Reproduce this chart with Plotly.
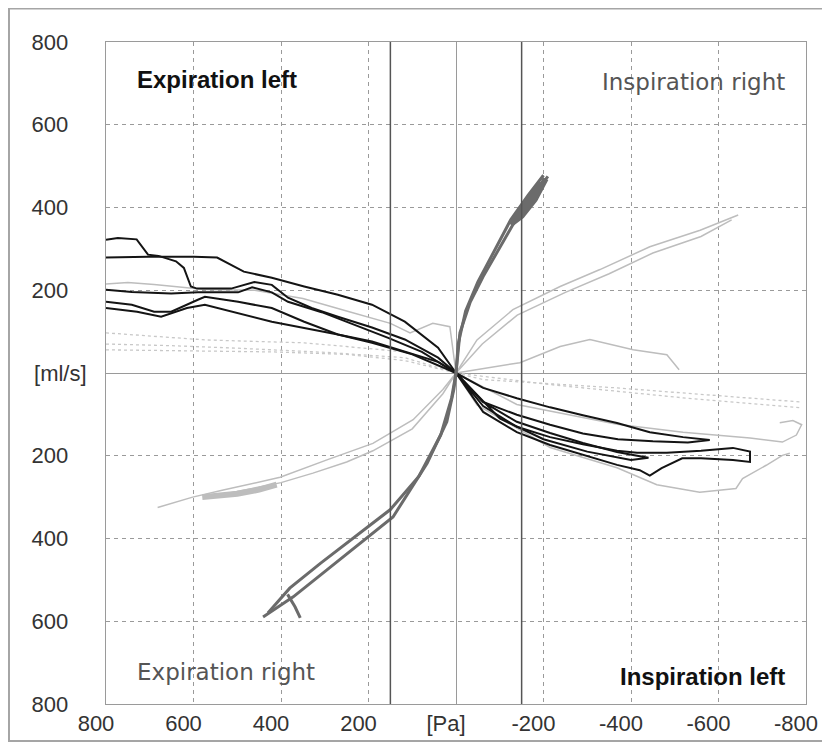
import plotly.graph_objects as go

# ---------------- data (pressure [Pa], flow [ml/s]) ----------------
x_ticks = [800, 600, 400, 200, 0, -200, -400, -600, -800]
x_tick_labels = ["800", "600", "400", "200", "[Pa]", "-200", "-400", "-600", "-800"]
y_ticks = [800, 600, 400, 200, 0, -200, -400, -600, -800]
y_tick_labels = ["800", "600", "400", "200", "[ml/s]", "200", "400", "600", "800"]
ref_lines_pa = [150, -150]

# Expiration left (black, upper-left quadrant)
expl_a_x = [800, 773, 730, 704, 680, 640, 622, 606, 592, 514, 461, 421, 384, 330, 270, 192, 117, 41, 0]
expl_a_y = [322, 326, 323, 286, 283, 270, 254, 209, 204, 204, 220, 213, 182, 157, 136, 110, 81, 37, 0]
expl_b_x = [800, 704, 599, 546, 485, 421, 347, 270, 192, 117, 41, 0]
expl_b_y = [279, 281, 281, 279, 245, 230, 209, 189, 165, 124, 61, 0]
expl_c_x = [800, 741, 651, 590, 498, 466, 421, 384, 307, 231, 155, 78, 0]
expl_c_y = [201, 196, 192, 195, 195, 207, 195, 172, 147, 116, 85, 51, 0]
expl_d_x = [800, 741, 690, 651, 590, 574, 498, 421, 347, 270, 192, 117, 41, 0]
expl_d_y = [172, 165, 148, 148, 177, 184, 172, 157, 124, 93, 76, 51, 27, 0]
expl_e_x = [800, 729, 674, 615, 574, 498, 421, 347, 270, 192, 100, 0]
expl_e_y = [157, 148, 136, 157, 165, 145, 124, 109, 93, 73, 45, 0]

# Inspiration left (black, lower-right quadrant)
insl_a_x = [0, -62, -139, -215, -290, -368, -443, -519, -580, -530, -450, -370, -290, -215, -139, -62, 0]
insl_a_y = [0, -36, -61, -83, -102, -121, -143, -155, -162, -168, -165, -160, -146, -125, -101, -70, 0]
insl_b_x = [0, -62, -139, -215, -290, -368, -414, -482, -560, -633, -672, -672, -633, -560, -517,
            -470, -443, -420, -368, -290, -215, -139, -62, 0]
insl_b_y = [0, -80, -130, -155, -172, -188, -193, -193, -188, -181, -190, -215, -210, -206, -206,
            -230, -248, -235, -222, -198, -174, -143, -94, 0]
insl_c_x = [0, -62, -139, -215, -290, -368, -414, -440, -400, -300, -200, -100, 0]
insl_c_y = [0, -70, -118, -145, -169, -191, -200, -205, -210, -190, -160, -110, 0]

# Right side (dark grey, steep curve)
right_a_x = [441, 372, 295, 219, 144, 66, 21, 5, 0, -9, -32, -62, -107, -146, -185, -210]
right_a_y = [-590, -541, -476, -411, -348, -218, -118, -40, 0, 97, 170, 233, 315, 388, 440, 475]
right_b_x = [-200, -165, -125, -90, -50, -22, -5, 0, 10, 35, 85, 150, 230, 310, 380, 430]
right_b_y = [478, 430, 370, 300, 220, 150, 70, 0, -60, -150, -250, -330, -395, -460, -520, -580]
right_c_x = [-205, -180, -150, -125, -160, -195]
right_c_y = [470, 420, 380, 360, 410, 460]
right_spur_x = [385, 368, 356]
right_spur_y = [-535, -565, -592]

# Light grey curves (second measurement)
grey_a_x = [682, 602, 532, 470, 402, 295, 190, 98, 30, 0, -48, -130, -238, -329, -443, -558, -645]
grey_a_y = [-325, -300, -283, -268, -252, -210, -170, -113, -40, 0, 80, 153, 209, 250, 305, 345, 382]
grey_b_x = [540, 470, 400, 327, 250, 190, 100, 30, 0, -60, -140, -250, -350, -450, -560, -630]
grey_b_y = [-295, -280, -265, -242, -215, -188, -135, -50, 0, 70, 140, 195, 240, 290, 330, 370]
grey_c_x = [580, 540, 500, 450, 410]
grey_c_y = [-300, -295, -292, -282, -270]
grey_d_x = [0, -146, -238, -306, -405, -482, -510]
grey_d_y = [0, 25, 64, 81, 56, 44, 8]
grey_e_x = [800, 750, 690, 574, 460, 350, 250, 150, 105, 53, 14, 0]
grey_e_y = [215, 219, 214, 202, 200, 180, 150, 120, 97, 120, 112, 0]
grey_f_x = [0, -48, -215, -368, -459, -557, -640, -655, -709, -746, -763]
grey_f_y = [0, -77, -180, -229, -270, -288, -279, -255, -223, -199, -194]
grey_g_x = [0, -139, -368, -519, -672, -746, -778, -790, -770, -740]
grey_g_y = [0, -76, -124, -143, -157, -167, -150, -125, -115, -120]

# Light grey dotted traces
dot_a_x = [800, 700, 574, 450, 347, 230, 117, 40, 0]
dot_a_y = [97, 90, 80, 76, 73, 62, 51, 25, 0]
dot_b_x = [800, 650, 500, 400, 300, 117, 0]
dot_b_y = [70, 66, 60, 55, 50, 37, 0]
dot_c_x = [800, 600, 421, 250, 117, 0]
dot_c_y = [56, 53, 51, 45, 30, 0]
dot_d_x = [0, -62, -368, -787]
dot_d_y = [0, -16, -36, -70]
dot_e_x = [0, -215, -519, -787]
dot_e_y = [0, -28, -60, -84]

quadrant_labels = ["Expiration left", "Inspiration right", "Expiration right", "Inspiration left"]

# ---------------- figure ----------------
fig = go.Figure()

def add_line(xs, ys, color, width, dash="solid"):
    fig.add_trace(go.Scatter(x=xs, y=ys, mode="lines",
                             line=dict(color=color, width=width, dash=dash),
                             hoverinfo="skip", showlegend=False))

for xs, ys in [(dot_a_x, dot_a_y), (dot_b_x, dot_b_y), (dot_c_x, dot_c_y),
               (dot_d_x, dot_d_y), (dot_e_x, dot_e_y)]:
    add_line(xs, ys, "#c8c8c8", 1.3, "dot")

for xs, ys in [(grey_a_x, grey_a_y), (grey_b_x, grey_b_y), (grey_d_x, grey_d_y),
               (grey_e_x, grey_e_y), (grey_f_x, grey_f_y), (grey_g_x, grey_g_y)]:
    add_line(xs, ys, "#bdbdbd", 1.5)
add_line(grey_c_x, grey_c_y, "#bdbdbd", 6)

for xs, ys in [(expl_a_x, expl_a_y), (expl_b_x, expl_b_y), (expl_c_x, expl_c_y),
               (expl_d_x, expl_d_y), (expl_e_x, expl_e_y),
               (insl_a_x, insl_a_y), (insl_b_x, insl_b_y), (insl_c_x, insl_c_y)]:
    add_line(xs, ys, "#141414", 2)

for xs, ys in [(right_a_x, right_a_y), (right_b_x, right_b_y), (right_spur_x, right_spur_y)]:
    add_line(xs, ys, "#6b6b6b", 3)
add_line(right_c_x, right_c_y, "#6b6b6b", 6)

for v in ref_lines_pa:
    fig.add_vline(x=v, line=dict(color="#555555", width=1.5))

tick_font = dict(family="Liberation Sans, Arial, sans-serif", size=22, color="#333333")
nb = "\u00a0\u00a0\u00a0"

fig.update_xaxes(range=[800, -800], tickmode="array", tickvals=x_ticks, ticktext=x_tick_labels,
                 showgrid=True, gridcolor="#9a9a9a", griddash="4px,4px", gridwidth=1,
                 zeroline=True, zerolinecolor="#9a9a9a", zerolinewidth=1,
                 showline=True, linecolor="#9a9a9a", linewidth=1, mirror=True,
                 ticks="", tickfont=tick_font, automargin=False, ticklabelshift=10)
fig.update_yaxes(range=[-800, 800], tickmode="array", tickvals=y_ticks,
                 ticktext=[t if t.startswith("[") else t + nb for t in y_tick_labels],
                 showgrid=True, gridcolor="#9a9a9a", griddash="4px,4px", gridwidth=1,
                 zeroline=True, zerolinecolor="#9a9a9a", zerolinewidth=1,
                 showline=True, linecolor="#9a9a9a", linewidth=1, mirror=True,
                 ticks="", tickfont=tick_font, automargin=False, ticklabelstandoff=14)

bold_font = dict(family="Liberation Sans, Arial, sans-serif", size=24, color="#111111")
reg_font = dict(family="DejaVu Sans, sans-serif", size=23, color="#555555")
fig.add_annotation(text="<b>" + quadrant_labels[0] + "</b>", xref="paper", yref="paper",
                   x=0.041, y=0.943, xanchor="left", yanchor="middle", showarrow=False, font=bold_font)
fig.add_annotation(text=quadrant_labels[1], xref="paper", yref="paper",
                   x=0.973, y=0.94, xanchor="right", yanchor="middle", showarrow=False, font=reg_font)
fig.add_annotation(text=quadrant_labels[2], xref="paper", yref="paper",
                   x=0.041, y=0.048, xanchor="left", yanchor="middle", showarrow=False, font=reg_font)
fig.add_annotation(text="<b>" + quadrant_labels[3] + "</b>", xref="paper", yref="paper",
                   x=0.973, y=0.042, xanchor="right", yanchor="middle", showarrow=False, font=bold_font)

# outer window frame
fig.add_shape(type="rect", xref="paper", yref="paper", x0=-0.1386, x1=1.0286, y0=-0.0559, y1=1.0506,
              line=dict(color="#a5a5a5", width=2), fillcolor="rgba(0,0,0,0)", layer="above")

# page body adds an 8px offset, so the figure is 8px smaller and margins 8px less
fig.update_layout(width=822, height=738, template="none",
                  margin=dict(l=98, r=24, t=34, b=42),
                  paper_bgcolor="white", plot_bgcolor="white", showlegend=False)

fig.write_html("out.html")
